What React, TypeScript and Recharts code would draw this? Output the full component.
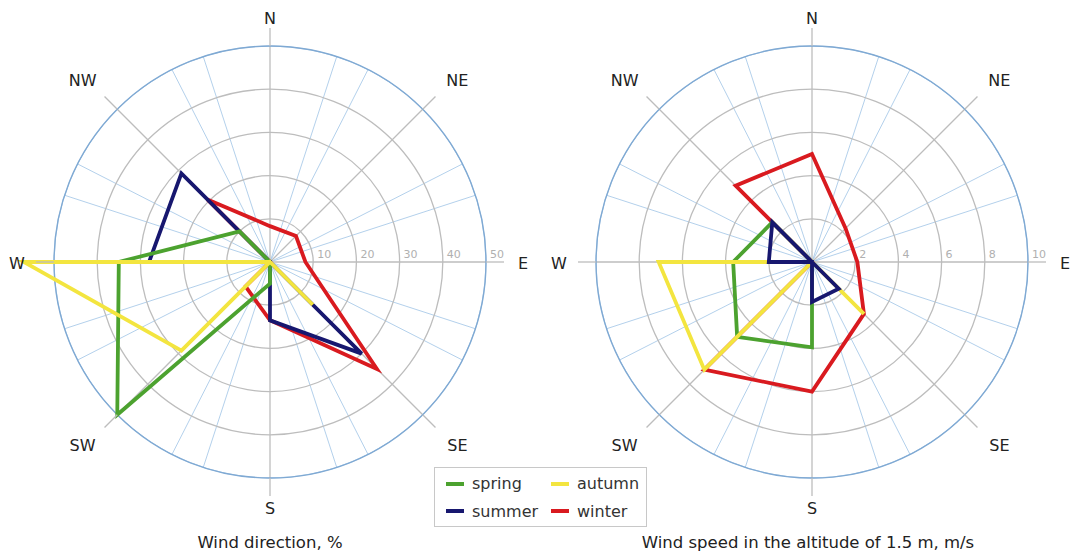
import React from 'react';
import { RadarChart, Radar, PolarGrid, PolarAngleAxis, PolarRadiusAxis } from 'recharts';

const directions = ['N', 'NE', 'E', 'SE', 'S', 'SW', 'W', 'NW'];

// Wind direction, %
const dirSpring = [0, 0, 0, 0, 5, 50, 35, 10];
const dirSummer = [0, 0, 0, 30, 13.5, 0, 28, 29];
const dirAutumn = [0, 0, 0, 14, 0, 29, 57, 0];
const dirWinter = [8.3, 8.5, 8.2, 35, 13.5, 8, 0, 20.5];
const dirTicks = [0, 10, 20, 30, 40, 50];

// Wind speed at 1.5 m, m/s
const speedSpring = [0, 0, 0, 0, 3.95, 4.9, 3.65, 2.6];
const speedSummer = [0, 0, 0, 1.75, 1.85, 0, 2.0, 2.6];
const speedAutumn = [0, 0, 0, 3.4, 0, 7.05, 7.1, 0];
const speedWinter = [5, 2.2, 2.1, 3.4, 6, 7.05, 0, 5];
const speedTicks = [0, 2, 4, 6, 8, 10];

const seasons = [
  { key: 'spring', color: '#4ca22f' },
  { key: 'summer', color: '#17176f' },
  { key: 'autumn', color: '#f3e53f' },
  { key: 'winter', color: '#d91a1f' },
];

const FONT = '"DejaVu Sans", Verdana, sans-serif';
const CY = 262;
const R = 216;

// thin blue spokes: two per octant, in compass degrees
const blueAngles = directions.flatMap((_, i) => [i * 45 + 18, i * 45 + 27]).map((c) => 90 - c);

const dirData = directions.map((d, i) => ({
  dir: d,
  spring: dirSpring[i],
  summer: dirSummer[i],
  autumn: dirAutumn[i],
  winter: dirWinter[i],
}));

const speedData = directions.map((d, i) => ({
  dir: d,
  spring: speedSpring[i],
  summer: speedSummer[i],
  autumn: speedAutumn[i],
  winter: speedWinter[i],
}));

function makeAngleTick(cx0: number) {
  return (props: any) => {
    const { payload } = props;
    const cx = props.cx ?? cx0;
    const cy = props.cy ?? CY;
    const angle = payload.coordinate;
    const compass = ((90 - angle) % 360 + 360) % 360;
    const diag = compass % 90 !== 0;
    const horiz = compass === 90 || compass === 270;
    const rx = diag ? 265 : horiz ? 253 : 246;
    const ry = diag ? 258 : horiz ? 253 : 245;
    const rad = (-angle * Math.PI) / 180;
    return (
      <text
        x={cx + rx * Math.cos(rad)}
        y={cy + ry * Math.sin(rad) + 1}
        textAnchor="middle"
        dominantBaseline="central"
        fontSize={16}
        fontFamily={FONT}
        fill="#222"
      >
        {payload.value}
      </text>
    );
  };
}

const RadiusTick = (props: any) => {
  const { x, y, payload } = props;
  if (payload.value === 0) return null;
  return (
    <text x={x + 4} y={y - 4} fontSize={11} fontFamily={FONT} fill="#b0b0b0" textAnchor="start">
      {payload.value}
    </text>
  );
};

function Rose({ data, ticks, cx, width, order }: { data: any[]; ticks: number[]; cx: number; width: number; order: string[] }) {
  const max = ticks[ticks.length - 1];
  const grayRadii = ticks.slice(1, -1).map((v) => (v / max) * R);
  return (
    <RadarChart width={width} height={555} data={data} cx={cx} cy={CY} outerRadius={R} startAngle={90} endAngle={-270}>
      <PolarGrid gridType="circle" polarAngles={blueAngles} polarRadius={[R]} stroke="#9fc4e6" strokeWidth={0.8} />
      <PolarGrid gridType="circle" polarRadius={grayRadii} stroke="#bdbdbd" strokeWidth={1.3} />
      <PolarGrid gridType="circle" radialLines={false} polarAngles={[90]} polarRadius={[R]} stroke="#7fa9d3" strokeWidth={1.4} />
      <PolarAngleAxis
        dataKey="dir"
        axisLine={false}
        tickSize={18}
        tickLine={{ stroke: '#bdbdbd', strokeWidth: 1.3 }}
        tick={makeAngleTick(cx)}
      />
      <PolarRadiusAxis
        angle={0}
        domain={[0, max]}
        ticks={ticks}
        tickCount={ticks.length}
        allowDataOverflow
        axisLine={false}
        tickLine={false}
        tick={<RadiusTick />}
      />
      {order.map((k) => {
        const s = seasons.find((x) => x.key === k)!;
        return (
          <Radar
            key={k}
            dataKey={k}
            stroke={s.color}
            strokeWidth={3.8}
            fill="none"
            fillOpacity={0}
            dot={false}
            isAnimationActive={false}
          />
        );
      })}
    </RadarChart>
  );
}

function Legend() {
  const item = (k: string) => {
    const s = seasons.find((x) => x.key === k)!;
    return (
      <div style={{ display: 'flex', alignItems: 'center', height: 25 }}>
        <div style={{ width: 18, height: 4, background: s.color, marginRight: 8 }} />
        <span>{k}</span>
      </div>
    );
  };
  return (
    <div
      style={{
        position: 'absolute',
        left: 434,
        top: 467,
        width: 213,
        height: 60,
        border: '1.5px solid #c8c8c8',
        boxSizing: 'border-box',
        background: '#fff',
        fontFamily: FONT,
        fontSize: 16,
        color: '#333',
        display: 'grid',
        gridTemplateColumns: '105px 100px',
        padding: '3px 0 0 11px',
      }}
    >
      {item('spring')}
      {item('autumn')}
      {item('summer')}
      {item('winter')}
    </div>
  );
}

export default function App() {
  return (
    <div style={{ position: 'absolute', left: 0, top: 0, width: 1071, height: 555, background: '#fff', overflow: 'hidden' }}>
      <div style={{ position: 'absolute', left: 0, top: 0 }}>
        <Rose data={dirData} ticks={dirTicks} cx={270} width={540} order={['winter', 'summer', 'spring', 'autumn']} />
      </div>
      <div style={{ position: 'absolute', left: 540, top: 0 }}>
        <Rose data={speedData} ticks={speedTicks} cx={272} width={531} order={['winter', 'spring', 'autumn', 'summer']} />
      </div>
      <Legend />
      <div style={{ position: 'absolute', left: 120, width: 300, top: 533, textAlign: 'center', fontFamily: FONT, fontSize: 16.5, color: '#222' }}>
        Wind direction, %
      </div>
      <div style={{ position: 'absolute', left: 558, width: 500, top: 533, textAlign: 'center', fontFamily: FONT, fontSize: 16.5, color: '#222' }}>
        Wind speed in the altitude of 1.5 m, m/s
      </div>
    </div>
  );
}
